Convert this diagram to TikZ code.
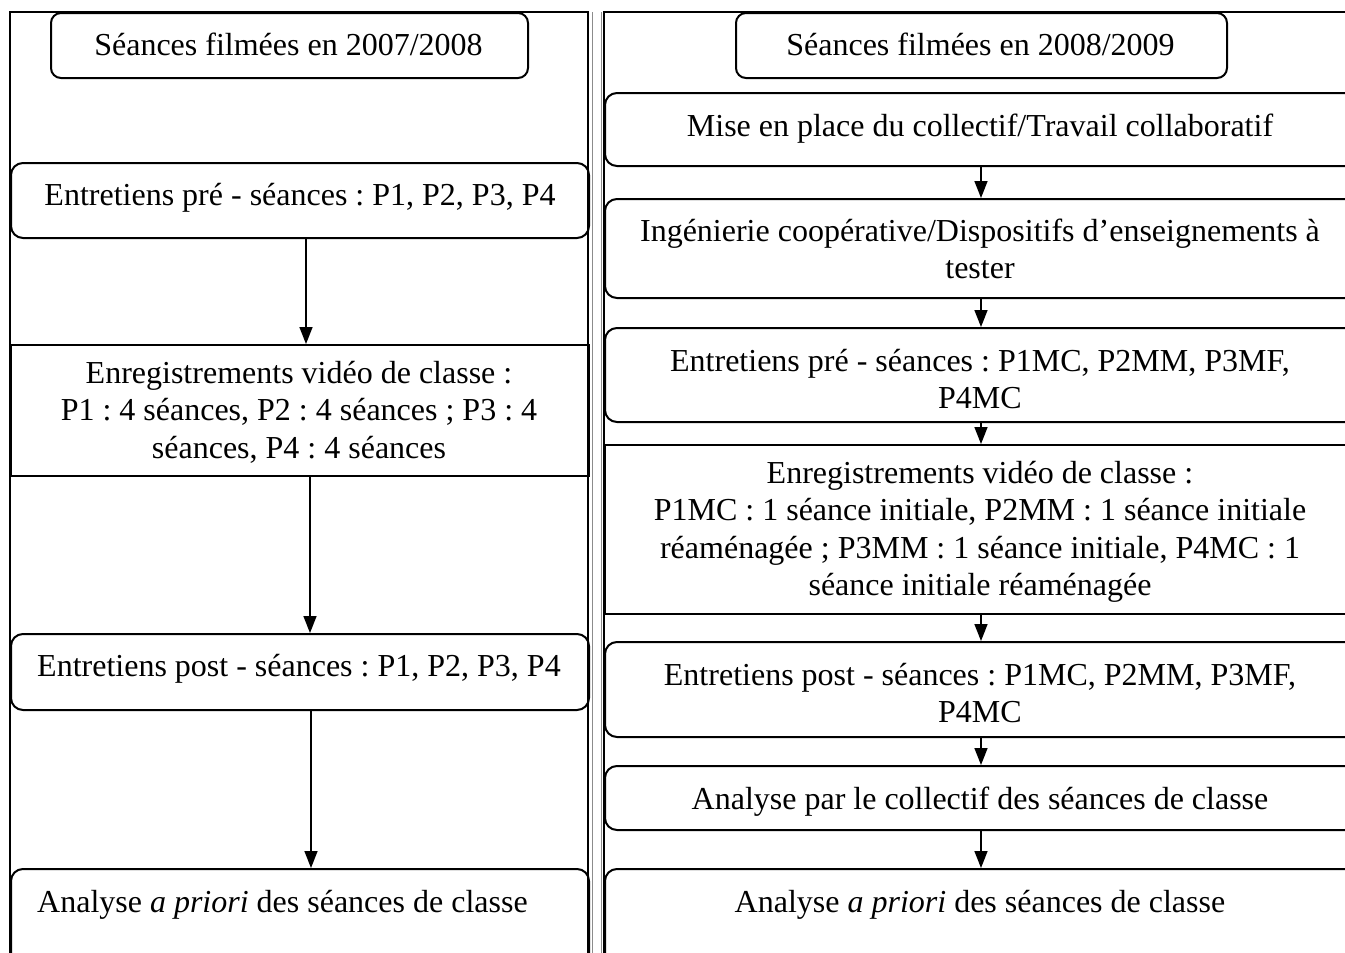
\documentclass[tikz,border=0pt]{standalone}
\usepackage{fontspec}
\setmainfont{Liberation Serif}
\usetikzlibrary{arrows.meta}
\frenchspacing
\begin{document}
\frenchspacing
\begin{tikzpicture}[x=1pt,y=-1pt,
  boxline/.style={draw=black, line width=2pt, inner sep=0pt, anchor=north west},
  rbox/.style={boxline, rounded corners=12pt},
  tbox/.style={boxline, rounded corners=10pt},
  sbox/.style={boxline},
  lbl/.style={font=\fontsize{32}{37.5}\selectfont\frenchspacing, inner sep=0pt, align=flush center, anchor=base},
  ltxt/.style={lbl, text width=570pt},
  rtxt/.style={lbl, text width=740pt},
  arr/.style={line width=1.6pt, -{Triangle[length=17pt,width=13pt]}},
  frame/.style={line width=2pt},
  edge/.style={draw=black!45, line width=1pt}
]
\useasboundingbox (0,0) rectangle (1345,953);
\clip (0,0) rectangle (1345,953);
\fill[white] (0,0) rectangle (1345,953);

% panel frames
\draw[frame] (10,990) -- (10,12) -- (588,12) -- (588,990);
\draw[edge] (592,12) -- (592,990);
\draw[edge] (601,12) -- (601,990);
\draw[frame] (604,990) -- (604,12) -- (1360,12);

% left column boxes
\node[tbox, minimum width=477pt, minimum height=65pt] (LT) at (50,12) {};
\node[rbox, minimum width=578pt, minimum height=75pt] (L1) at (10,162) {};
\node[sbox, minimum width=578pt, minimum height=131pt] (L2) at (10,344) {};
\node[rbox, minimum width=578pt, minimum height=76pt] (L3) at (10,633) {};
\node[rbox, minimum width=578pt, minimum height=110pt] (L4) at (10,868) {};

% left column texts
\node[lbl] (LTt) at (288.5,55) {Séances filmées en 2007/2008};
\node[ltxt] (L1t) at (300,205) {Entretiens pré - séances : P1, P2, P3, P4};
\node[ltxt] (L2t) at (299,383) {Enregistrements vidéo de classe :\\P1 : 4 séances, P2 : 4 séances ; P3 : 4\\séances, P4 : 4 séances};
\node[ltxt] (L3t) at (299,676) {Entretiens post - séances : P1, P2, P3, P4};
\node[lbl, anchor=base west] (L4t) at (37,912) {Analyse \textit{a priori} des séances de classe};

% left arrows
\draw[arr] ([xshift=6pt]L1.south) -- ([xshift=6pt]L2.north);
\draw[arr] ([xshift=10pt]L2.south) -- ([xshift=10pt]L3.north);
\draw[arr] ([xshift=11pt]L3.south) -- ([xshift=11pt]L4.north);

% right column boxes
\node[tbox, minimum width=491pt, minimum height=65pt] (RT) at (735,12) {};
\node[rbox, minimum width=752pt, minimum height=73pt] (R1) at (604,92) {};
\node[rbox, minimum width=752pt, minimum height=99pt] (R2) at (604,198) {};
\node[rbox, minimum width=752pt, minimum height=94pt] (R3) at (604,327) {};
\node[sbox, minimum width=752pt, minimum height=169pt] (R4) at (604,444) {};
\node[rbox, minimum width=752pt, minimum height=95pt] (R5) at (604,641) {};
\node[rbox, minimum width=752pt, minimum height=64pt] (R6) at (604,765) {};
\node[rbox, minimum width=752pt, minimum height=110pt] (R7) at (604,868) {};

% right column texts
\node[lbl] (RTt) at (980.5,55) {Séances filmées en 2008/2009};
\node[rtxt] (R1t) at (980,136) {Mise en place du collectif/Travail collaboratif};
\node[rtxt] (R2t) at (980,241) {Ingénierie coopérative/Dispositifs d’enseignements à\\tester};
\node[rtxt] (R3t) at (980,371) {Entretiens pré - séances : P1MC, P2MM, P3MF,\\P4MC};
\node[rtxt] (R4t) at (980,483) {Enregistrements vidéo de classe :\\P1MC : 1 séance initiale, P2MM : 1 séance initiale\\réaménagée ; P3MM : 1 séance initiale, P4MC : 1\\séance initiale réaménagée};
\node[rtxt] (R5t) at (980,685) {Entretiens post - séances : P1MC, P2MM, P3MF,\\P4MC};
\node[rtxt] (R6t) at (980,809) {Analyse par le collectif des séances de classe};
\node[rtxt] (R7t) at (980,912) {Analyse \textit{a priori} des séances de classe};

% right arrows
\draw[arr] (R1.south) -- (R2.north);
\draw[arr] (R2.south) -- (R3.north);
\draw[arr] (R3.south) -- (R4.north);
\draw[arr] (R4.south) -- (R5.north);
\draw[arr] (R5.south) -- (R6.north);
\draw[arr] (R6.south) -- (R7.north);
\end{tikzpicture}
\end{document}
